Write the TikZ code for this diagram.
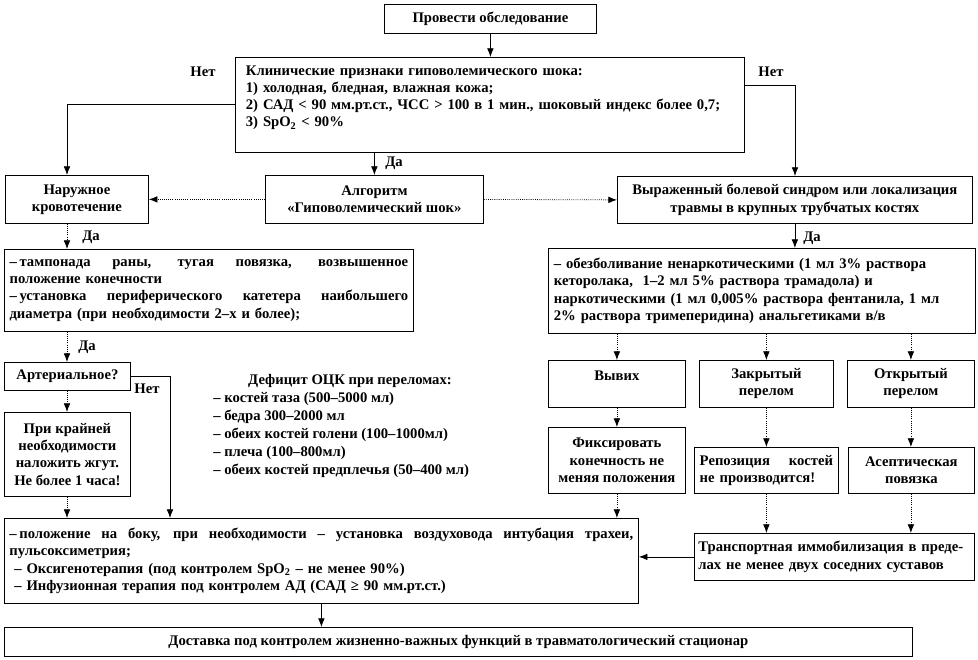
\documentclass[tikz,border=0pt]{standalone}
\usepackage{fontspec}
\setmainfont{Liberation Serif}
\usetikzlibrary{arrows.meta,calc}
\setlength\parindent{0pt}
\newcommand\bxn[7][]{\node[box,minimum width={(#4-#2)*0.75pt},minimum height={(#5-#3)*0.75pt},#1] (#6) at (#2,#3) {#7};}
\newcommand\jline[2]{\leavevmode\hbox to #1{\spaceskip=0pt\xspaceskip=0pt #2}}
\begin{document}
\begin{tikzpicture}[x=0.75pt,y=-0.75pt,
  every node/.style={font=\bfseries\fontsize{11}{12.9}\selectfont},
  box/.style={draw=black, line width=0.6pt, inner sep=0pt, anchor=north west},
  arr/.style={-{Latex[length=6.5pt,width=5pt]}, line width=0.6pt},
  darr/.style={arr, densely dotted},
  lbl/.style={inner sep=0pt}]
\useasboundingbox (0,0) rectangle (978,660);

% boxes
\bxn{384}{4}{596}{33}{prov}{Провести обследование}
\bxn[align=left,text width=366pt,inner xsep=7.5pt]{235}{57}{744}{152}{klin}{Клинические признаки гиповолемического шока:\\1) холодная, бледная, влажная кожа;\\2) САД < 90 мм.рт.ст., ЧСС > 100 в 1 мин., шоковый индекс более 0,7;\\3) SpO\textsubscript{2} < 90\%\\~}
\bxn[align=center]{5}{175}{148}{223}{nar}{Наружное\\кровотечение}
\bxn[align=center]{265}{175}{483}{223}{alg}{Алгоритм\\«Гиповолемический шок»}
\bxn[align=center]{617}{176}{972}{223}{vyr}{Выраженный болевой синдром или локализация\\травмы в крупных трубчатых костях}
\bxn[align=left,text width=299pt,inner xsep=3pt]{4}{249}{413}{331}{tamp}{\jline{299pt}{–\kern2pt тампонада раны, тугая повязка, возвышенное}\\положение конечности\\\jline{299pt}{–\kern2pt установка периферического катетера наибольшего}\\диаметра (при необходимости 2–х и более);}
\bxn[align=left,text width=312pt,inner xsep=2pt]{548}{248}{975}{333}{ana}{– обезболивание ненаркотическими (1 мл 3\% раствора\\кеторолака,\ \ 1–2 мл 5\% раствора трамадола) и\\наркотическими (1 мл 0,005\% раствора фентанила, 1 мл\\2\% раствора тримеперидина) анальгетиками в/в}
\bxn{4}{362}{130}{390}{art}{Артериальное?}
\bxn[align=center]{4}{412}{130}{496}{krai}{При крайней\\необходимости\\наложить жгут.\\Не более 1 часа!}
\bxn[align=center]{548}{360}{685}{407}{vyv}{Вывих\\~}
\bxn[align=center]{699}{360}{833}{407}{zakr}{Закрытый\\перелом}
\bxn[align=center]{847}{360}{974}{407}{otkr}{Открытый\\перелом}
\bxn[align=center]{548}{427}{685}{493}{fix}{Фиксировать\\конечность не\\меняя положения}
\bxn[align=left,text width=100pt,inner xsep=2pt]{694}{447}{838}{493}{repoz}{\jline{100pt}{Репозиция костей}\\не производится!}
\bxn[align=center]{848}{447}{974}{493}{asep}{Асептическая\\повязка}
\bxn[align=left,text width=204pt,inner xsep=3pt]{694}{533}{974}{580}{transp}{Транспортная иммобилизация в преде-\\лах не менее двух соседних суставов}
\bxn[align=left,text width=468pt,inner xsep=3pt]{4}{518}{638}{603}{big}{\jline{468pt}{–\kern2pt положение на боку, при необходимости – установка воздуховода интубация трахеи,}\\пульсоксиметрия;\\\ – Оксигенотерапия (под контролем SpO\textsubscript{2} – не менее 90\%)\\\ – Инфузионная терапия под контролем АД (САД ≥ 90 мм.рт.ст.)}
\bxn{4}{627}{912}{656}{dost}{Доставка под контролем жизненно-важных функций в травматологический стационар}

% deficit text
\node[lbl] (deft) at (350,381) {Дефицит ОЦК при переломах:};
\node[lbl,align=left,anchor=north west,font=\bfseries\fontsize{11}{13.5}\selectfont] (defl) at (213,392) {– костей таза (500–5000 мл)\\– бедра 300–2000 мл\\– обеих костей голени (100–1000мл)\\– плеча (100–800мл)\\– обеих костей предплечья (50–400 мл)};

% labels
\node[lbl] (net1) at (203,72) {Нет};
\node[lbl] (net2) at (771,72) {Нет};
\node[lbl] (da1) at (394,163) {Да};
\node[lbl] (da2) at (91,237) {Да};
\node[lbl] (da3) at (812,238) {Да};
\node[lbl] (da4) at (87,347) {Да};
\node[lbl] (net3) at (147,389) {Нет};

% helper coordinates
\coordinate (colA) at (67,0);
\coordinate (colB) at (170,0);
\coordinate (rowN) at (0,85);
\coordinate (colR) at (795,0);

% connectors
\draw[arr] (prov.south) -- (prov.south |- klin.north);
\draw[arr] (klin.west) -| (colA |- nar.north);
\draw[arr] (klin.east |- rowN) -| (colR |- vyr.north);
\draw[arr] (alg.north |- klin.south) -- (alg.north);
\draw[darr] (alg.west) -- (nar.east);
\draw[darr] (alg.east) -- (vyr.west);
\draw[arr] (vyr.south) -- (vyr.south |- ana.north);
\draw[darr] (colA |- nar.south) -- (colA |- tamp.north);
\draw[darr] (colA |- tamp.south) -- (colA |- art.north);
\draw[darr] (colA |- art.south) -- (colA |- krai.north);
\draw[darr] (colA |- krai.south) -- (colA |- big.north);
\draw[arr] (art.east) -| (colB |- big.north);
\draw[darr] (vyv.north |- ana.south) -- (vyv.north);
\draw[darr] (zakr.north |- ana.south) -- (zakr.north);
\draw[darr] (otkr.north |- ana.south) -- (otkr.north);
\draw[darr] (vyv.south) -- (fix.north);
\draw[darr] (zakr.south) -- (zakr.south |- repoz.north);
\draw[darr] (otkr.south) -- (otkr.south |- asep.north);
\draw[darr] (fix.south) -- (fix.south |- big.north);
\draw[darr] (zakr.south |- repoz.south) -- (zakr.south |- transp.north);
\draw[darr] (otkr.south |- asep.south) -- (otkr.south |- transp.north);
\draw[arr] (transp.west) -- (transp.west -| big.east);
\draw[arr] (big.south) -- (big.south |- dost.north);
\end{tikzpicture}
\end{document}
